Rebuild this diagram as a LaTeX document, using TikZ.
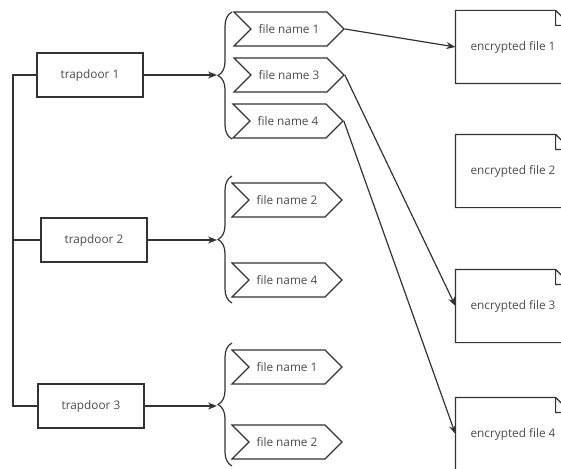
\documentclass[tikz,border=0pt]{standalone}
\usepackage{fontspec}
\setmainfont{Open Sans}
\usetikzlibrary{shapes.symbols,decorations.pathreplacing,arrows.meta}
\tikzstyle{trap} = [draw=black!80, fill=white, minimum width=106pt, minimum height=44pt, text=black!70]
\tikzstyle{fname} = [draw=black!80, fill=white, signal, signal from=west, signal to=east, minimum width=110pt, minimum height=34pt, inner sep=1pt, text=black!70]
\tikzstyle{enc} = [minimum width=114pt, minimum height=72pt, text=black!70]
\tikzstyle{brc} = [draw=black!80, decorate, decoration={brace, amplitude=14pt}]

\begin{document}
\begin{tikzpicture}[x=1pt, y=-1pt, line width=1.2pt, font=\fontsize{11.8}{14}\selectfont, >={Stealth[length=9pt,width=7pt]}]
        \clip (0,0) rectangle (561,468);
        \node[trap](t1) at (90,75){trapdoor 1};
        \node[trap](t2) at (94,240){trapdoor 2};
        \node[trap](t3) at (91,406){trapdoor 3};
        \coordinate (bus1) at (13,75);
        \coordinate (bus3) at (13,406);
        \draw[draw=black!80] (t1.west)--(bus1)--(bus3)--(t3.west);
        \draw[draw=black!80] (t2.west)--(t2.west -| bus1);
        \draw[brc] (232,139)--(232,12);
        \draw[brc] (232,303)--(232,176);
        \draw[brc] (232,466)--(232,343);
        \coordinate (b1) at (217,75);
        \coordinate (b2) at (217,240);
        \coordinate (b3) at (217,406);
        \draw[->,draw=black!80](t1)--(b1);
        \draw[->,draw=black!80](t2)--(b2);
        \draw[->,draw=black!80](t3)--(b3);
        \node[fname](fa1) at (289,29){file name 1};
        \node[fname](fa3) at (289,75){file name 3};
        \node[fname](fa4) at (288,121){file name 4};
        \node[fname](fb2) at (287,200){file name 2};
        \node[fname](fb4) at (287,280){file name 4};
        \node[fname](fc1) at (287,367){file name 1};
        \node[fname](fc2) at (287,442){file name 2};
        \node[enc](e1) at (513,47){encrypted file 1};
        \node[enc](e2) at (513,171){encrypted file 2};
        \node[enc](e3) at (513,306){encrypted file 3};
        \node[enc](e4) at (513,434){encrypted file 4};
        \foreach \e in {e1,e2,e3,e4}
          \draw[draw=black!80] (\e.north west)--([xshift=-15pt]\e.north east)--([yshift=-15pt]\e.north east)--(\e.south east)--(\e.south west)--cycle
            ([xshift=-15pt]\e.north east)--([xshift=-15pt,yshift=-15pt]\e.north east)--([yshift=-15pt]\e.north east);
        \draw[->,draw=black!80](fa1.east)--(e1.west);
        \draw[->,draw=black!80](fa3.east)--(e3.west);
        \draw[->,draw=black!80](fa4.east)--(e4.west);
      \end{tikzpicture}
\end{document}
